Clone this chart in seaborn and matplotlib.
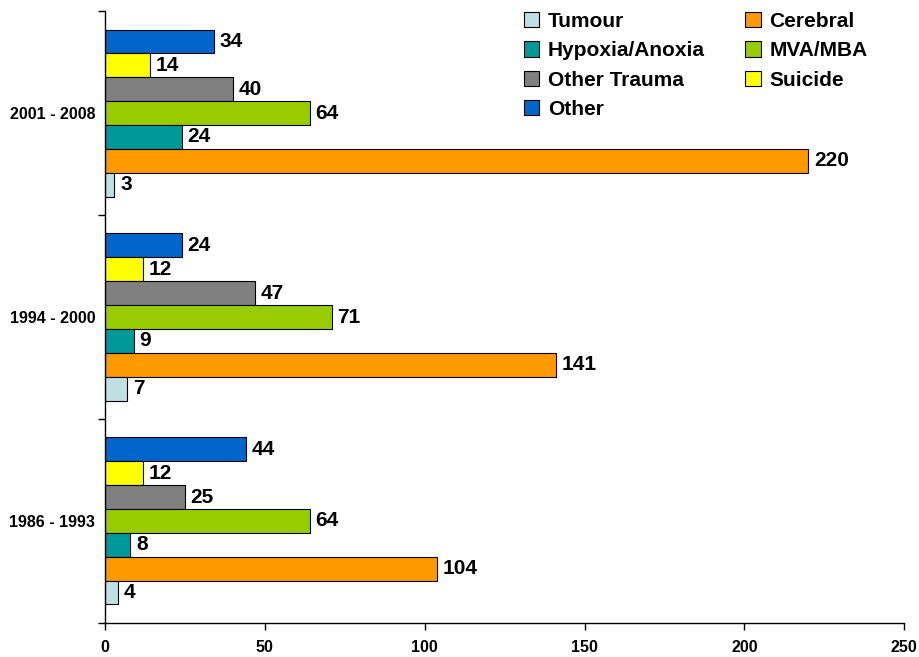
import pandas as pd
import seaborn as sns
import matplotlib.pyplot as plt
from matplotlib.ticker import FixedLocator

# data
periods = ["2001 - 2008", "1994 - 2000", "1986 - 1993"]
causes = ["Tumour", "Cerebral", "Hypoxia/Anoxia", "MVA/MBA", "Other Trauma", "Suicide", "Other"]
tumour = [3, 7, 4]
cerebral = [220, 141, 104]
hypoxia = [24, 9, 8]
mva = [64, 71, 64]
other_trauma = [40, 47, 25]
suicide = [14, 12, 12]
other = [34, 24, 44]
colors = ["#BFE0E3", "#FF9900", "#009999", "#99CC00", "#808080", "#FFFF00", "#0066CC"]

series = [tumour, cerebral, hypoxia, mva, other_trauma, suicide, other]
rows = []
for cause, vals in zip(causes, series):
    for p, v in zip(periods, vals):
        rows.append({"Period": p, "Cause": cause, "Count": v})
df = pd.DataFrame(rows)

sns.set_style("white")
plt.rcParams["font.family"] = ["Liberation Sans", "DejaVu Sans"]
plt.rcParams["font.weight"] = "bold"
plt.rcParams["text.color"] = "black"
plt.rcParams["xtick.color"] = "black"
plt.rcParams["ytick.color"] = "black"

fig = plt.figure(figsize=(9.2, 6.57), dpi=100)
ax = fig.add_axes([0.114, 0.052, 0.869, 0.931])

# hue order reversed so Tumour sits at the bottom of each group
hue_order = causes[::-1]
palette = dict(zip(causes, colors))
sns.barplot(data=df, y="Period", x="Count", hue="Cause", order=periods,
            hue_order=hue_order, palette=palette, orient="h", width=0.82,
            edgecolor="black", linewidth=0.8, saturation=1, ax=ax, legend=False)

for cont in ax.containers:
    ax.bar_label(cont, padding=4, fontsize=15, fontweight="bold", color="black")

ax.set_xlim(0, 250)
ax.set_xticks([0, 50, 100, 150, 200, 250])
ax.set_ylim(2.5, -0.5)
ax.yaxis.set_major_locator(FixedLocator([-0.5, 0.5, 1.5, 2.5]))
ax.set_yticklabels([])
ax.yaxis.set_minor_locator(FixedLocator([0, 1, 2]))
ax.set_yticklabels(periods, minor=True)
ax.tick_params(axis="y", which="minor", length=0, pad=7, labelsize=11.5)
ax.tick_params(axis="y", which="major", length=5, width=1, direction="out", left=True)
ax.tick_params(axis="x", length=5, width=1, direction="out", bottom=True, labelsize=11.5, pad=7)
for lab in ax.get_xticklabels() + ax.get_yticklabels(minor=True):
    lab.set_fontweight("bold")
ax.set_xlabel("")
ax.set_ylabel("")
sns.despine(ax=ax, top=True, right=True)
for s in ["left", "bottom"]:
    ax.spines[s].set_color("black")
    ax.spines[s].set_linewidth(1)

# legend, two columns filled row-wise
handles = [plt.Rectangle((0, 0), 1, 1, facecolor=c, edgecolor="black", linewidth=0.8) for c in colors]
order = [0, 2, 4, 6, 1, 3, 5]
leg = fig.legend([handles[i] for i in order], [causes[i] for i in order], ncol=2,
                 loc="upper left", bbox_to_anchor=(0.558, 0.998), frameon=False,
                 prop={"size": 15, "weight": "bold"}, handlelength=0.75, handleheight=0.75,
                 handletextpad=0.4, columnspacing=1.95, labelspacing=0.5, borderpad=0)

fig.savefig("out.png", dpi=100)
